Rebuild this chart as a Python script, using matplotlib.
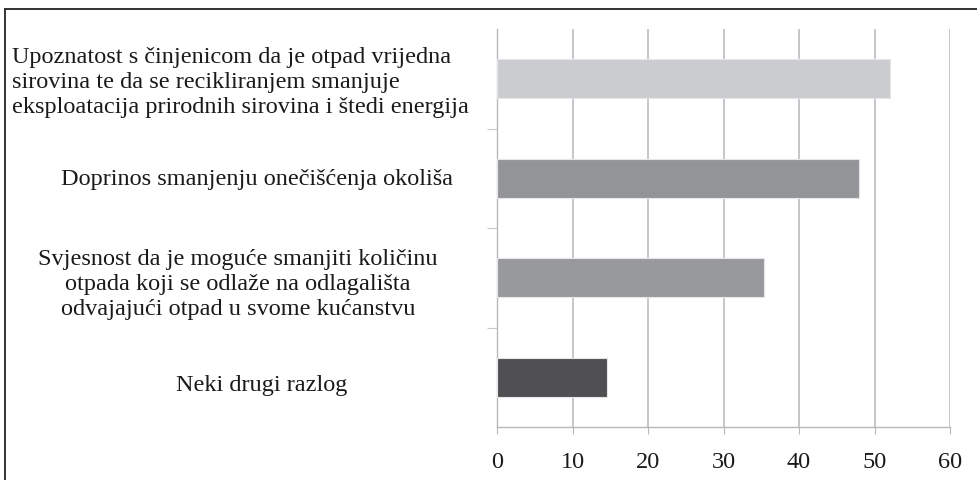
import matplotlib.pyplot as plt
import numpy as np
from matplotlib.lines import Line2D

# podaci
razlozi = [
    "Upoznatost s činjenicom da je otpad vrijedna\nsirovina te da se recikliranjem smanjuje\neksploatacija prirodnih sirovina i štedi energija",
    "Doprinos smanjenju onečišćenja okoliša",
    "Svjesnost da je moguće smanjiti količinu\notpada koji se odlaže na odlagališta\nodvajajući otpad u svome kućanstvu",
    "Neki drugi razlog",
]
postotci = [52.0, 47.9, 35.4, 14.6]
boje = ["#cbcccf", "#939497", "#98999c", "#505052"]
x_ticks = [0, 10, 20, 30, 40, 50, 60]

plt.rcParams['font.family'] = ['Liberation Serif', 'DejaVu Serif']

fig = plt.figure(figsize=(9.77, 4.81), dpi=100)
W, H = 977, 481
ax = fig.add_axes([497 / W, 1 - 428 / H, (950 - 497) / W, (428 - 30) / H])

n = len(razlozi)
y = np.arange(n)
ax.barh(y, postotci, height=0.39, color=boje, edgecolor="#e6e6e8", linewidth=0.8, zorder=3)

ax.set_xlim(0, 60)
ax.set_ylim(n - 0.5, -0.5)
ax.set_xticks(x_ticks)
ax.set_xticklabels([str(t) for t in x_ticks], fontsize=17.5, color="#1a1a1a")
ax.tick_params(axis='x', length=5, color="#b8b8bc", pad=12)
ax.grid(axis='x', color="#bdbdc1", linewidth=1.2, zorder=0)

# granice kategorija na y osi
ax.set_yticks(np.arange(1, n) - 0.5)
ax.set_yticklabels([])
ax.tick_params(axis='y', length=7, color="#c8c8cc")

for s in ['top', 'right']:
    ax.spines[s].set_visible(False)
for s in ['left', 'bottom']:
    ax.spines[s].set_color("#b8b8bc")
    ax.spines[s].set_linewidth(1.0)

# oznake kategorija (tekst lijevo od osi)
lab_x = [12, 257, 238, 262]
lab_ha = ['left', 'center', 'center', 'center']
lab_dy = [3, 0, 6, 7]
for i, txt in enumerate(razlozi):
    yc = 30 + (i + 0.5) * (428 - 30) / n + lab_dy[i]
    fig.text(lab_x[i] / W, 1 - yc / H, txt, ha=lab_ha[i], va='center',
             multialignment=lab_ha[i], fontsize=17.5, linespacing=1.25, color="#1a1a1a")

# okvir
fig.add_artist(Line2D([5 / W, 1], [1 - 10 / H, 1 - 10 / H], color="#333333", linewidth=1.4))
fig.add_artist(Line2D([5 / W, 5 / W], [0, 1 - 10 / H], color="#333333", linewidth=1.4))

fig.savefig("out.png", dpi=100, facecolor="white")
